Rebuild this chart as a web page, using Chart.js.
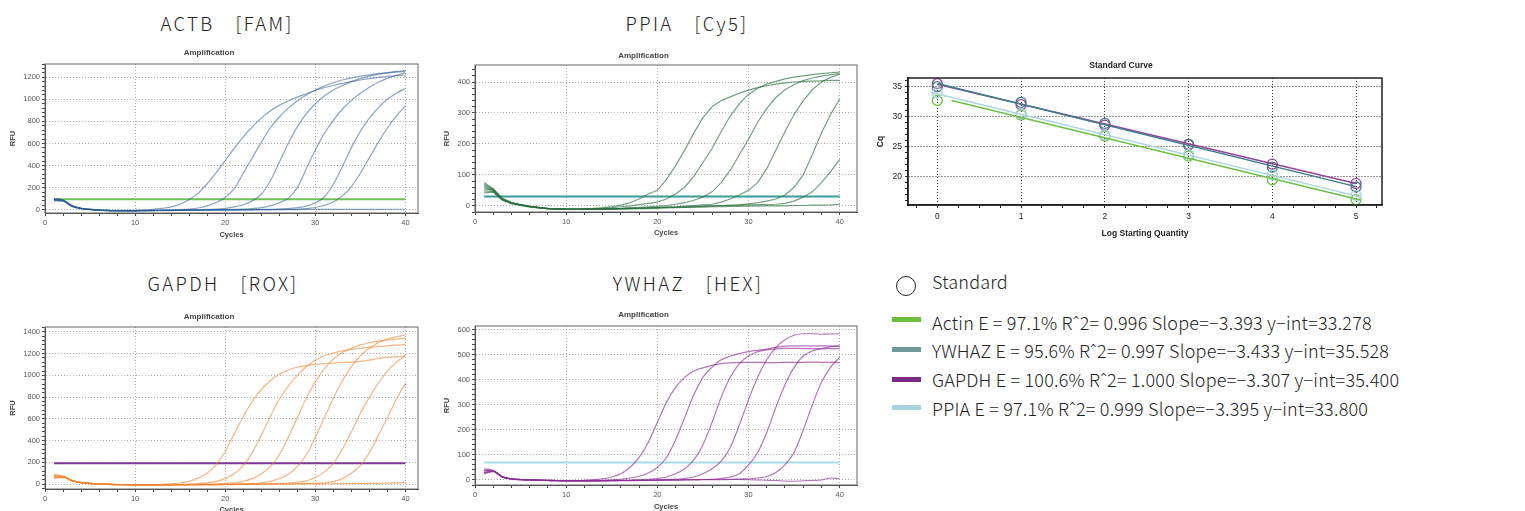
<!DOCTYPE html>
<html>
<head>
<meta charset="utf-8">
<script src="https://cdn.jsdelivr.net/npm/chart.js@4.4.1/dist/chart.umd.min.js"></script>
<style>
  body { margin:0; width:1525px; height:511px; background:#fff; position:relative; overflow:hidden;
         font-family:"Noto Sans CJK KR","Noto Sans",sans-serif; }
  canvas { position:absolute; }
  .ttl { position:absolute; font-size:18.5px; line-height:1; color:#222;
         white-space:pre; transform:translateX(-50%); font-weight:300; letter-spacing:2.4px; }
  .row { position:absolute; left:932px; font-size:18px; line-height:24px; color:#222; white-space:pre;
         font-weight:300; letter-spacing:0.2px; }
  .sw { position:absolute; left:892px; width:29px; height:5px; }
  .circ { position:absolute; left:896px; top:276px; width:18px; height:18px; border:1px solid #222; border-radius:50%; }
</style>
</head>
<body>
<div class="ttl" style="left:227px;top:14px">ACTB　[FAM]</div>
<div class="ttl" style="left:687px;top:14px">PPIA　[Cy5]</div>
<div class="ttl" style="left:223px;top:274px">GAPDH　[ROX]</div>
<div class="ttl" style="left:688px;top:274px">YWHAZ　[HEX]</div>

<canvas id="actb"></canvas>
<canvas id="ppia"></canvas>
<canvas id="gapdh"></canvas>
<canvas id="ywhaz"></canvas>
<canvas id="std"></canvas>

<div class="circ"></div>
<div class="row" style="top:269px">Standard</div>
<div id="legend"></div>

<script>
// --- amplification data (RFU per cycle) ---
const cycles = [1,2,3,4,5,6,7,8,9,10,11,12,13,14,15,16,17,18,19,20,21,22,23,24,25,26,27,28,29,30,31,32,33,34,35,36,37,38,39,40];

const actbCurves = [
  [100,88,38,14,4,-2,-5,-7,-7,-5,-2,4,12,25,50,90,150,235,335,445,555,660,750,830,895,945,985,1020,1050,1080,1105,1125,1145,1160,1175,1188,1198,1207,1214,1220],
  [95,85,35,12,3,-4,-7,-9,-9,-8,-7,-6,-5,-3,0,5,15,35,65,110,190,330,470,610,740,840,920,985,1040,1085,1120,1150,1175,1195,1210,1222,1232,1240,1247,1252],
  [90,82,32,10,2,-4,-8,-9,-10,-9,-8,-7,-6,-5,-4,-3,-1,2,5,12,25,45,80,140,260,430,600,750,870,960,1030,1085,1125,1160,1188,1210,1228,1242,1253,1262],
  [85,80,30,10,1,-5,-8,-10,-10,-10,-9,-8,-7,-6,-5,-4,-3,-2,0,1,3,5,10,18,35,62,105,200,370,540,690,810,910,990,1055,1110,1155,1190,1218,1240],
  [95,84,34,11,2,-4,-7,-9,-9,-9,-8,-8,-7,-6,-5,-4,-4,-3,-2,-2,-1,0,1,2,3,6,10,18,32,60,115,230,390,560,710,830,925,1000,1055,1100],
  [80,78,30,9,1,-5,-8,-10,-10,-10,-9,-9,-8,-8,-7,-6,-5,-5,-4,-3,-3,-2,-1,0,1,2,3,5,10,20,40,70,125,210,330,470,610,740,850,940],
  [90,82,33,11,2,-4,-7,-9,-9,-9,-8,-7,-6,-5,-4,-4,-3,-3,-2,-2,-1,-1,0,0,0,1,1,1,2,2,2,2,3,3,3,3,3,4,4,4]
];
const ppiaCurves = [
  [65,52,22,10,3,-2,-5,-8,-9,-10,-10,-9,-8,-6,-3,2,10,22,38,50,85,130,180,235,285,320,340,352,364,374,382,388,393,397,400,402,403,404,405,405],
  [75,55,24,11,4,-1,-5,-8,-10,-11,-11,-10,-9,-8,-6,-3,0,4,8,12,22,38,60,95,140,185,240,290,330,360,380,393,402,410,416,420,424,427,430,432],
  [55,50,20,9,2,-3,-6,-9,-10,-11,-11,-11,-10,-10,-9,-8,-6,-5,-3,-1,1,5,10,18,28,45,75,115,165,215,270,315,350,375,392,405,413,419,424,427],
  [48,46,19,8,2,-3,-7,-9,-11,-12,-12,-12,-11,-11,-10,-9,-8,-7,-6,-5,-4,-3,-1,1,3,5,12,22,35,50,75,120,180,240,295,340,375,400,415,425],
  [60,50,21,9,3,-2,-6,-9,-10,-11,-12,-12,-12,-11,-11,-10,-9,-8,-7,-6,-5,-4,-3,-2,-1,0,1,2,3,6,10,15,22,35,60,100,165,235,295,345],
  [70,53,23,10,3,-2,-6,-9,-10,-11,-11,-11,-11,-10,-10,-9,-8,-8,-7,-6,-5,-5,-4,-3,-2,-1,0,1,2,3,4,4,5,8,15,28,45,75,110,150],
  [42,44,18,7,1,-4,-7,-10,-11,-12,-12,-12,-12,-11,-11,-10,-10,-9,-9,-8,-7,-6,-5,-5,-4,-3,-3,-2,-2,-1,-1,0,0,0,1,1,2,2,3,5]
];
const gapdhCurves = [
  [90,75,35,15,8,4,0,-3,-4,-5,-5,-4,-2,3,10,25,55,100,180,300,460,620,760,870,950,1010,1050,1075,1090,1100,1108,1113,1118,1122,1128,1140,1155,1165,1172,1178],
  [75,70,33,14,7,3,-1,-4,-5,-6,-6,-6,-5,-4,-2,1,5,12,25,50,95,170,290,450,620,780,900,1000,1080,1140,1180,1205,1225,1240,1250,1258,1265,1272,1278,1284],
  [60,65,30,13,6,2,-2,-5,-6,-7,-7,-7,-7,-6,-5,-4,-3,-1,2,5,12,25,50,95,160,270,430,610,790,940,1060,1150,1210,1250,1280,1300,1315,1325,1333,1340],
  [55,62,30,12,5,1,-3,-5,-7,-8,-8,-8,-8,-7,-7,-6,-5,-4,-3,-2,0,2,5,12,25,50,90,160,270,430,610,790,950,1080,1180,1250,1300,1335,1355,1370],
  [70,68,32,13,6,2,-2,-5,-6,-7,-7,-7,-7,-7,-6,-6,-5,-5,-4,-3,-2,-1,0,1,3,6,10,18,30,60,110,190,320,480,650,800,930,1040,1120,1185],
  [85,72,34,14,7,3,-1,-4,-5,-6,-7,-7,-7,-7,-7,-6,-6,-5,-5,-4,-4,-3,-2,-1,0,1,2,4,6,8,10,25,50,100,170,290,450,610,780,930],
  [65,66,31,13,6,2,-2,-5,-6,-7,-7,-7,-7,-6,-6,-5,-5,-4,-4,-3,-2,-2,-1,0,0,1,1,2,2,3,3,4,4,5,5,6,7,9,12,15]
];
const ywhazCurves = [
  [45,38,14,5,2,1,0,-1,-2,-2,-2,-1,2,5,12,25,50,90,150,230,310,370,410,435,448,458,465,468,469,470,470,469,469,470,470,470,471,470,470,470],
  [38,36,13,5,2,1,0,-1,-2,-3,-3,-3,-2,-1,1,3,8,15,28,50,90,160,250,340,410,450,480,495,505,513,518,523,530,535,536,536,535,536,535,535],
  [30,35,12,4,1,0,-1,-2,-3,-3,-3,-3,-3,-2,-2,-1,0,1,3,6,12,25,45,80,140,230,330,410,465,495,512,520,524,526,526,525,525,524,525,525],
  [25,33,11,4,1,0,-1,-2,-3,-4,-4,-4,-4,-3,-3,-2,-2,-1,0,1,2,3,6,12,25,45,75,130,220,320,410,480,530,560,578,584,584,582,583,584],
  [40,37,13,5,2,1,0,-1,-2,-3,-3,-3,-3,-3,-2,-2,-2,-1,-1,0,0,1,1,2,2,3,6,12,25,60,110,190,290,380,450,495,515,525,532,536],
  [35,36,12,4,1,0,-1,-2,-3,-3,-3,-3,-3,-3,-3,-2,-2,-2,-1,-1,0,0,1,1,2,2,3,3,4,5,8,14,30,60,110,200,300,390,450,490],
  [28,34,12,4,1,0,-1,-2,-3,-3,-4,-4,-4,-4,-3,-3,-3,-2,-2,-2,-1,-1,0,0,1,1,1,2,2,1,0,-1,-2,-4,-5,-3,-2,0,8,5]
];
const thresholds = { actb: 95, ppia: 30, gapdh: 192, ywhaz: 70 };

// --- standard curve data ---
const logQty   = [0, 1, 2, 3, 4, 5];
const genes    = ['Actin', 'YWHAZ', 'GAPDH', 'PPIA'];
const cqActin  = [32.7, 30.3, 26.8, 23.45, 19.5, 16.2];
const cqYWHAZ  = [35.0, 32.4, 28.9, 25.3, 21.6, 18.3];
const cqGAPDH  = [35.5, 32.0, 28.6, 25.4, 22.1, 18.9];
const cqPPIA   = [34.0, 30.5, 27.0, 23.7, 20.3, 16.9];
const effs     = ['97.1', '95.6', '100.6', '97.1'];
const r2s      = ['0.996', '0.997', '1.000', '0.999'];
const slopes   = [-3.393, -3.433, -3.307, -3.395];
const yints    = [33.278, 35.528, 35.400, 33.800];
const fitFrom  = [0.17, 0, 0, -0.07];
const fitTo    = [5.05, 5.0, 5.0, 5.05];

Chart.defaults.font.family = '"Liberation Sans", Arial, sans-serif';

const isMajor = (v, step) => Math.abs(v / step - Math.round(v / step)) < 1e-6;

// frame around the plot area
const boxPlugin = {
  id: 'box',
  afterDatasetsDraw(chart, args, o) {
    const { ctx, chartArea: a } = chart;
    ctx.save();
    ctx.strokeStyle = o.color || '#555';
    ctx.lineWidth = o.width || 1;
    ctx.strokeRect(a.left, a.top, a.right - a.left, a.bottom - a.top);
    ctx.restore();
  }
};

function place(cv, left, top, w, h) {
  cv.width = w; cv.height = h;
  cv.style.left = left + 'px'; cv.style.top = top + 'px';
  cv.style.width = w + 'px'; cv.style.height = h + 'px';
}

function ampChart(id, p) {
  const cv = document.getElementById(id);
  const left = p.l - 45, top = p.t - 22;
  const w = p.r - left + 6, h = p.b - top + 32;
  place(cv, left, top, w, h);
  const padTop = (p.titleY - top) - 4.8;
  const titleBottom = (p.t - top) - padTop - 9.6;
  const cyclesPad = h - (p.cyclesY - top) - 4.5;
  const rfuPad = (p.rfuX - left) - 4.5;

  const datasets = p.series.map(s => ({
    data: s.map((y, i) => ({ x: cycles[i], y })),
    borderColor: p.color, borderWidth: 1.2, pointRadius: 0,
    tension: p.smooth ? 0.4 : 0,
    cubicInterpolationMode: p.smooth ? 'monotone' : 'default'
  }));
  datasets.push({
    data: [{ x: cycles[0], y: p.thr }, { x: cycles[cycles.length - 1], y: p.thr }],
    borderColor: p.thrColor, borderWidth: 2, pointRadius: 0
  });

  new Chart(cv, {
    type: 'line',
    data: { datasets },
    options: {
      responsive: false, animation: false,
      layout: { padding: { left: 0, right: 6, top: padTop, bottom: 0 } },
      plugins: {
        legend: { display: false }, tooltip: { enabled: false },
        title: { display: true, text: 'Amplification', color: '#444',
                 font: { size: 8, weight: 'bold' }, padding: { top: 0, bottom: titleBottom } },
        box: { color: '#666', width: 1 }
      },
      scales: {
        x: {
          type: 'linear', min: 0, max: p.xmax,
          afterFit: s => { s.height = 32; },
          ticks: { stepSize: 2, includeBounds: false, autoSkip: false, maxRotation: 0, padding: 2, color: '#555',
                   font: { size: 7.5 }, callback: v => isMajor(v, 10) ? String(v) : '' },
          grid: { color: c => c.tick && isMajor(c.tick.value, 10) && c.tick.value > 0 ? '#b0b0b0' : 'rgba(0,0,0,0)',
                  tickColor: '#444', tickLength: 3 },
          border: { color: '#444', width: 1, dash: [1, 2] },
          title: { display: true, text: 'Cycles', color: '#444', font: { size: 7.5, weight: 'bold' },
                   padding: { top: 0, bottom: cyclesPad } }
        },
        y: {
          min: p.ymin, max: p.ymax,
          afterFit: s => { s.width = 45; },
          ticks: { stepSize: p.minor, includeBounds: false, autoSkip: false, padding: 2, color: '#555',
                   font: { size: 7.5 }, callback: v => isMajor(v, p.major) ? String(v) : '' },
          grid: { color: c => c.tick && isMajor(c.tick.value, p.major) ? '#b0b0b0' : 'rgba(0,0,0,0)',
                  tickColor: '#444', tickLength: 3 },
          border: { color: '#444', width: 1, dash: [1, 2] },
          title: { display: true, text: 'RFU', color: '#444', font: { size: 7.5, weight: 'bold' },
                   padding: { top: rfuPad, bottom: 0 } }
        }
      }
    },
    plugins: [boxPlugin]
  });
}

ampChart('actb', { l: 45, r: 418, t: 64, b: 213, titleY: 53, cyclesY: 235, rfuX: 13,
  xmax: 41.4, ymin: -30, ymax: 1320, major: 200, minor: 40,
  series: actbCurves, color: 'rgba(40,90,150,0.55)', thr: thresholds.actb, thrColor: '#6cc255', smooth: true });
ampChart('ppia', { l: 475, r: 857, t: 65, b: 212, titleY: 56, cyclesY: 233, rfuX: 447,
  xmax: 41.9, ymin: -20, ymax: 455, major: 100, minor: 20,
  series: ppiaCurves, color: 'rgba(40,110,60,0.65)', thr: thresholds.ppia, thrColor: '#3a9c9c', smooth: false });
ampChart('gapdh', { l: 45, r: 418, t: 327, b: 489, titleY: 317, cyclesY: 510, rfuX: 13,
  xmax: 41.4, ymin: -45, ymax: 1445, major: 200, minor: 40,
  series: gapdhCurves, color: 'rgba(245,130,45,0.6)', thr: thresholds.gapdh, thrColor: '#7b3a96', smooth: true });
ampChart('ywhaz', { l: 475, r: 857, t: 326, b: 485, titleY: 315, cyclesY: 507, rfuX: 447,
  xmax: 41.9, ymin: -20, ymax: 615, major: 100, minor: 20,
  series: ywhazCurves, color: 'rgba(140,40,150,0.65)', thr: thresholds.ywhaz, thrColor: '#a8dce6', smooth: true });

// --- standard curve ---
(function () {
  const cv = document.getElementById('std');
  const left = 860, top = 55, w = 530, h = 190;
  place(cv, left, top, w, h);
  const cqs = [cqActin, cqYWHAZ, cqGAPDH, cqPPIA];
  const plotColors = ['#6cbf45', '#3d7e8c', '#93449b', '#a9d6e3'];
  const order = [3, 0, 1, 2];
  const datasets = [];
  order.forEach(g => datasets.push({
    showLine: true, pointRadius: 0, borderColor: plotColors[g], borderWidth: 1.5,
    data: [fitFrom[g], fitTo[g]].map(x => ({ x, y: yints[g] + slopes[g] * x }))
  }));
  order.forEach(g => datasets.push({
    pointRadius: 5, pointStyle: 'circle', borderColor: plotColors[g], borderWidth: 1.3,
    backgroundColor: 'rgba(0,0,0,0)',
    data: logQty.map((x, i) => ({ x, y: cqs[g][i] }))
  }));

  new Chart(cv, {
    type: 'scatter',
    data: { datasets },
    options: {
      responsive: false, animation: false,
      layout: { padding: { left: 0, right: 8, top: 5.9, bottom: 0 } },
      plugins: {
        legend: { display: false }, tooltip: { enabled: false },
        title: { display: true, text: 'Standard Curve', color: '#222',
                 font: { size: 8.5, weight: 'bold' }, padding: { top: 0, bottom: 6.9 } },
        box: { color: '#222', width: 1.5 }
      },
      scales: {
        x: {
          type: 'linear', min: -0.35, max: 5.31,
          afterFit: s => { s.height = 40; },
          ticks: { stepSize: 0.25, includeBounds: false, autoSkip: false, maxRotation: 0, padding: 4, color: '#222',
                   font: { size: 8.5 }, callback: v => isMajor(v, 1) ? String(Math.round(v)) : '' },
          grid: { color: c => c.tick && isMajor(c.tick.value, 1) ? '#333' : 'rgba(0,0,0,0)',
                  tickColor: '#222', tickLength: 3 },
          border: { color: '#222', width: 1.5, dash: [1, 2] },
          title: { display: true, text: 'Log Starting Quantity', color: '#222',
                   font: { size: 8.5, weight: 'bold' }, padding: { top: 0, bottom: 6 } }
        },
        y: {
          min: 15.3, max: 36.45,
          afterFit: s => { s.width = 48; },
          ticks: { stepSize: 1, includeBounds: false, autoSkip: false, padding: 3, color: '#222',
                   font: { size: 8.5 }, callback: v => isMajor(v, 5) ? String(Math.round(v)) : '' },
          grid: { color: c => c.tick && isMajor(c.tick.value, 5) ? '#333' : 'rgba(0,0,0,0)',
                  tickColor: '#222', tickLength: 3 },
          border: { color: '#222', width: 1.5, dash: [1, 2] },
          title: { display: true, text: 'Cq', color: '#222',
                   font: { size: 8.5, weight: 'bold' }, padding: { top: 16, bottom: 0 } }
        }
      }
    },
    plugins: [boxPlugin]
  });
})();

// --- legend below the standard curve ---
const legendColors = ['#6cbf3c', '#6f9a9a', '#7a2a82', '#a8d4e0'];
const rowTops = [310, 338, 366.8, 395.5];
const swatchY = [317, 346.5, 376.5, 405];
const leg = document.getElementById('legend');
genes.forEach((g, i) => {
  const sw = document.createElement('div');
  sw.className = 'sw';
  sw.style.top = swatchY[i] + 'px';
  sw.style.background = legendColors[i];
  leg.appendChild(sw);
  const row = document.createElement('div');
  row.className = 'row';
  row.style.top = rowTops[i] + 'px';
  row.textContent = `${g} E = ${effs[i]}% R\u02C62= ${r2s[i]} Slope=\u2212${Math.abs(slopes[i]).toFixed(3)} y\u2212int=${yints[i].toFixed(3)}`;
  leg.appendChild(row);
});
</script>
</body>
</html>
